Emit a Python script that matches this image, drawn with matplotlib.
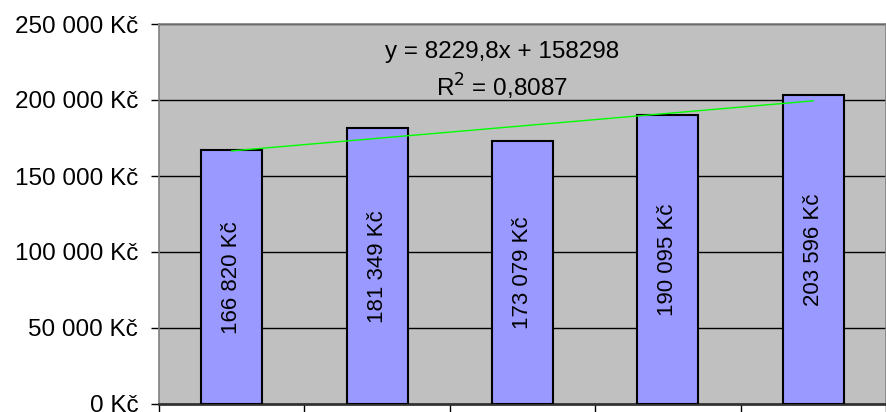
import numpy as np
import matplotlib.pyplot as plt
from matplotlib.ticker import FuncFormatter

# roky / hodnoty z grafu
categories = ["1", "2", "3", "4", "5"]
values = [166820, 181349, 173079, 190095, 203596]
trend_slope = 8229.8
trend_intercept = 158298
r_squared = "0,8087"

plt.rcParams['font.family'] = ['Liberation Sans', 'DejaVu Sans']


def kc(v, pos=None):
    """Format number as Czech currency: 166 820 Kč"""
    return f"{int(round(v)):,}".replace(",", " ") + " Kč"


fig = plt.figure(figsize=(8.86, 4.12), dpi=100)
ax = fig.add_axes([159 / 886, 8 / 412, 727 / 886, 380 / 412])
ax.set_facecolor('#c0c0c0')

x = np.arange(len(values))
bars = ax.bar(x, values, width=0.42, color='#9999ff', edgecolor='black',
              linewidth=1.5, zorder=3)

# popisky uvnitr sloupcu
for xi, v in zip(x, values):
    ax.text(xi, v / 2, kc(v), rotation=90, ha='center', va='center',
            fontsize=16, zorder=4)

# linearni trend (Excel: x = 1..5)
xt = np.array([x[0], x[-1]])
yt = trend_slope * (xt + 1) + trend_intercept
ax.plot(xt, yt, color='#00ff00', linewidth=1, zorder=5)

ax.text(0.472, 0.926, f"y = {str(trend_slope).replace('.', ',')}x + {trend_intercept}",
        transform=ax.transAxes, ha='center', va='center', fontsize=17.5)
ax.text(0.472, 0.834, "R$^2$ = " + r_squared, transform=ax.transAxes,
        ha='center', va='center', fontsize=17.5)

ax.set_xlim(-0.5, len(values) - 0.5)
ax.set_ylim(0, 250000)
ax.set_yticks(np.arange(0, 250001, 50000))
ax.yaxis.set_major_formatter(FuncFormatter(kc))
ax.tick_params(axis='y', labelsize=17.5, length=6, width=1, direction='out', pad=9)
ax.grid(axis='y', color='black', linewidth=1, zorder=1)

ax.set_xticks(np.arange(-0.5, len(values) - 0.4, 1))
ax.set_xticklabels([])
ax.tick_params(axis='x', length=6, width=1, direction='out')

for side in ['top', 'right', 'left']:
    ax.spines[side].set_color('#808080')
    ax.spines[side].set_linewidth(1.2)
ax.spines['bottom'].set_color('#333333')
ax.spines['bottom'].set_linewidth(2)

plt.savefig('out.png', dpi=100)
